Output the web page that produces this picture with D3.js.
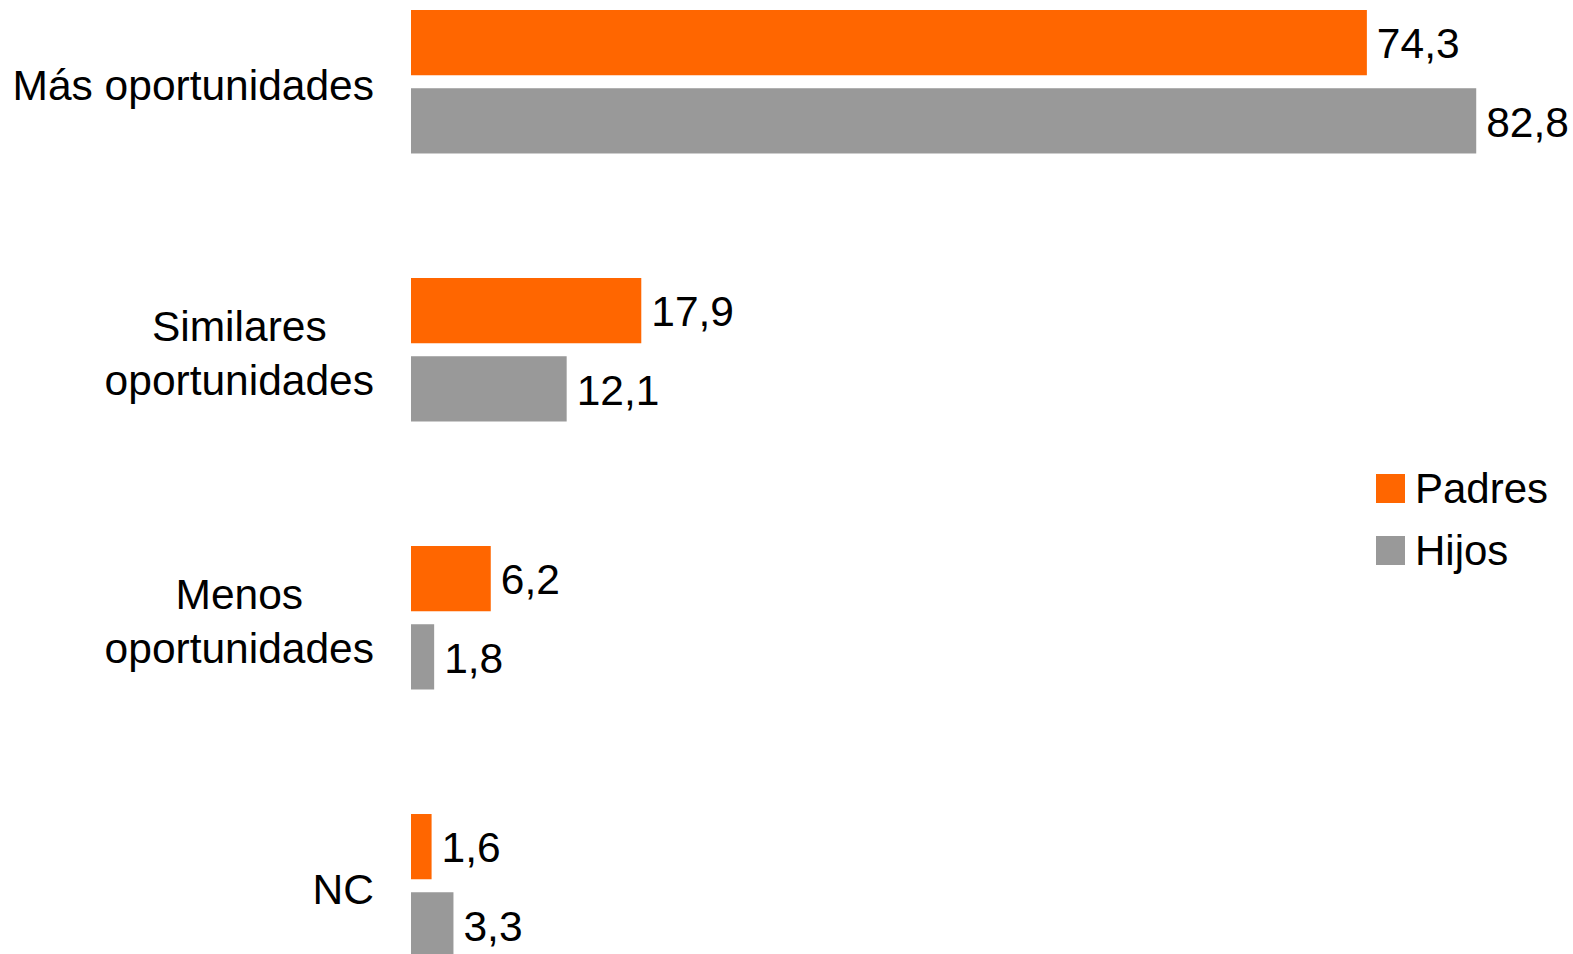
<!DOCTYPE html>
<html>
<head>
<meta charset="utf-8">
<script src="https://cdn.jsdelivr.net/npm/d3@7"></script>
<style>
  html, body { margin: 0; padding: 0; background: #fff; overflow: hidden; }
  text { font-family: "Liberation Sans", Arial, sans-serif; fill: #000; }
</style>
</head>
<body>
<div class="chart"></div>
<script>
// ---------- data
var categories = ["Más oportunidades", "Similares oportunidades", "Menos oportunidades", "NC"];
var categoryLines = [["Más oportunidades"], ["Similares", "oportunidades"], ["Menos", "oportunidades"], ["NC"]];
var seriesNames = ["Padres", "Hijos"];
var padres = [74.3, 17.9, 6.2, 1.6];
var hijos = [82.8, 12.1, 1.8, 3.3];
var seriesColors = ["#ff6600", "#999999"];

var width = 1573, height = 954;
var fontSize = 42.5;

var rows = categories.map((c, i) => ({ cat: c, lines: categoryLines[i], values: [padres[i], hijos[i]] }));

var svg = d3.select("div.chart").append("svg")
  .attr("width", width).attr("height", height);

// scales
var y0 = d3.scaleBand().domain(categories).range([10, 957.5])
  .paddingInner(0.4646).paddingOuter(0);
var y1 = d3.scaleBand().domain(seriesNames).range([0, y0.bandwidth()])
  .paddingInner(0.166).paddingOuter(0);
var x = d3.scaleLinear().domain([0, 100]).range([411, 1697.5]);

var fmt = v => d3.format(".1f")(v).replace(".", ",");

// groups
var groups = svg.selectAll("g.group").data(rows).enter()
  .append("g").attr("class", "group")
  .attr("transform", d => `translate(0, ${y0(d.cat)})`);

var bars = groups.selectAll("g.bar")
  .data(d => d.values.map((v, k) => ({ series: seriesNames[k], value: v, k: k })))
  .enter().append("g").attr("class", "bar");

bars.append("rect")
  .attr("x", x(0))
  .attr("y", d => y1(d.series))
  .attr("width", d => x(d.value) - x(0))
  .attr("height", y1.bandwidth())
  .attr("fill", d => seriesColors[d.k]);

bars.append("text")
  .attr("x", d => x(d.value) + 10)
  .attr("y", d => y1(d.series) + y1.bandwidth() / 2)
  .attr("dy", "0.37em")
  .style("font-size", fontSize + "px")
  .text(d => fmt(d.value));

// category labels: lines centred on each other, block right-aligned
var labelRight = 374;
var lineHeight = 54;
groups.each(function(d) {
  var g = d3.select(this);
  var cy = y0.bandwidth() / 2;
  var t = g.append("text").attr("class", "cat-label")
    .style("font-size", fontSize + "px")
    .attr("text-anchor", "middle");
  var n = d.lines.length;
  d.lines.forEach((line, i) => {
    t.append("tspan").attr("y", cy + 18 + (i - (n - 1) / 2) * lineHeight).text(line);
  });
  var maxW = 0;
  t.selectAll("tspan").each(function() { maxW = Math.max(maxW, this.getComputedTextLength()); });
  t.selectAll("tspan").attr("x", labelRight - maxW / 2);
});

// legend
var legend = svg.append("g").attr("class", "legend")
  .attr("transform", "translate(1376, 474)");
var items = legend.selectAll("g").data(seriesNames).enter()
  .append("g").attr("transform", (d, i) => `translate(0, ${i * 62})`);
items.append("rect").attr("width", 29).attr("height", 29)
  .attr("fill", (d, i) => seriesColors[i]);
items.append("text").attr("x", 39).attr("y", 29)
  .style("font-size", "42px")
  .text(d => d);
</script>
</body>
</html>
